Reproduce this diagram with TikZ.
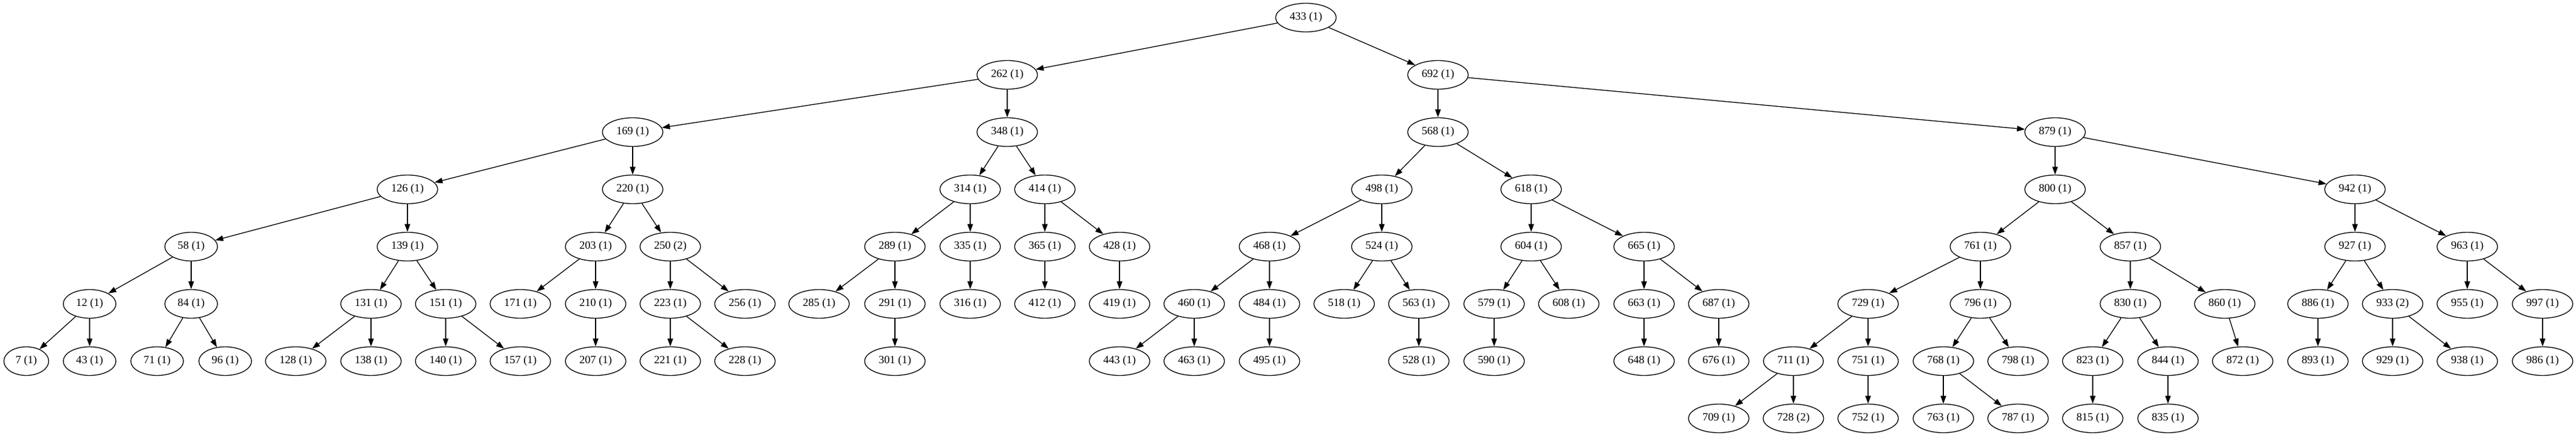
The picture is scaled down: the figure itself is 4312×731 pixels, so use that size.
\documentclass[tikz,border=0pt]{standalone}
\usepackage{fontspec}
\setmainfont{Liberation Serif}
\usetikzlibrary{shapes.geometric,arrows.meta}
\begin{document}
\begin{tikzpicture}[x=0.75pt,y=-0.75pt,
  tn/.style={ellipse,draw,line width=1pt,inner xsep=6.47pt,inner ysep=2pt,
    minimum height=36pt,minimum width=54pt,
    font=\fontsize{14pt}{17pt}\selectfont},
  edge/.style={line width=1pt,-{Triangle[length=10pt,width=7pt]}}]
\useasboundingbox (0,0) rectangle (4312,731);
% level 0
\node[tn] (n433) at (2186,29.5) {433 (1)};
% level 1
\node[tn] (n262) at (1686,125.5) {262 (1)};
\node[tn] (n692) at (2407,125.5) {692 (1)};
% level 2
\node[tn] (n169) at (1059,221.5) {169 (1)};
\node[tn] (n348) at (1686,221.5) {348 (1)};
\node[tn] (n568) at (2407,221.5) {568 (1)};
\node[tn] (n879) at (3440,221.5) {879 (1)};
% level 3
\node[tn] (n126) at (682,317.5) {126 (1)};
\node[tn] (n220) at (1059,317.5) {220 (1)};
\node[tn] (n314) at (1624,317.5) {314 (1)};
\node[tn] (n414) at (1749,317.5) {414 (1)};
\node[tn] (n498) at (2313,317.5) {498 (1)};
\node[tn] (n618) at (2563,317.5) {618 (1)};
\node[tn] (n800) at (3440,317.5) {800 (1)};
\node[tn] (n942) at (3942,317.5) {942 (1)};
% level 4
\node[tn] (n58) at (320,413.5) {58 (1)};
\node[tn] (n139) at (682,413.5) {139 (1)};
\node[tn] (n203) at (997,413.5) {203 (1)};
\node[tn] (n250) at (1122,413.5) {250 (2)};
\node[tn] (n289) at (1498,413.5) {289 (1)};
\node[tn] (n335) at (1624,413.5) {335 (1)};
\node[tn] (n365) at (1749,413.5) {365 (1)};
\node[tn] (n428) at (1874,413.5) {428 (1)};
\node[tn] (n468) at (2125,413.5) {468 (1)};
\node[tn] (n524) at (2313,413.5) {524 (1)};
\node[tn] (n604) at (2563,413.5) {604 (1)};
\node[tn] (n665) at (2752,413.5) {665 (1)};
\node[tn] (n761) at (3315,413.5) {761 (1)};
\node[tn] (n857) at (3566,413.5) {857 (1)};
\node[tn] (n927) at (3942,413.5) {927 (1)};
\node[tn] (n963) at (4130,413.5) {963 (1)};
% level 5
\node[tn] (n12) at (150,509.5) {12 (1)};
\node[tn] (n84) at (320,509.5) {84 (1)};
\node[tn] (n131) at (621,509.5) {131 (1)};
\node[tn] (n151) at (746,509.5) {151 (1)};
\node[tn] (n171) at (871,509.5) {171 (1)};
\node[tn] (n210) at (997,509.5) {210 (1)};
\node[tn] (n223) at (1122,509.5) {223 (1)};
\node[tn] (n256) at (1247,509.5) {256 (1)};
\node[tn] (n285) at (1371,509.5) {285 (1)};
\node[tn] (n291) at (1498,509.5) {291 (1)};
\node[tn] (n316) at (1624,509.5) {316 (1)};
\node[tn] (n412) at (1749,509.5) {412 (1)};
\node[tn] (n419) at (1874,509.5) {419 (1)};
\node[tn] (n460) at (1999,509.5) {460 (1)};
\node[tn] (n484) at (2125,509.5) {484 (1)};
\node[tn] (n518) at (2250,509.5) {518 (1)};
\node[tn] (n563) at (2375,509.5) {563 (1)};
\node[tn] (n579) at (2501,509.5) {579 (1)};
\node[tn] (n608) at (2626,509.5) {608 (1)};
\node[tn] (n663) at (2752,509.5) {663 (1)};
\node[tn] (n687) at (2877,509.5) {687 (1)};
\node[tn] (n729) at (3127,509.5) {729 (1)};
\node[tn] (n796) at (3315,509.5) {796 (1)};
\node[tn] (n830) at (3566,509.5) {830 (1)};
\node[tn] (n860) at (3724,509.5) {860 (1)};
\node[tn] (n886) at (3880,509.5) {886 (1)};
\node[tn] (n933) at (4005,509.5) {933 (2)};
\node[tn] (n955) at (4130,509.5) {955 (1)};
\node[tn] (n997) at (4256,509.5) {997 (1)};
% level 6
\node[tn] (n7) at (44,605.5) {7 (1)};
\node[tn] (n43) at (150,605.5) {43 (1)};
\node[tn] (n71) at (263,605.5) {71 (1)};
\node[tn] (n96) at (377,605.5) {96 (1)};
\node[tn] (n128) at (495,605.5) {128 (1)};
\node[tn] (n138) at (621,605.5) {138 (1)};
\node[tn] (n140) at (746,605.5) {140 (1)};
\node[tn] (n157) at (871,605.5) {157 (1)};
\node[tn] (n207) at (997,605.5) {207 (1)};
\node[tn] (n221) at (1122,605.5) {221 (1)};
\node[tn] (n228) at (1247,605.5) {228 (1)};
\node[tn] (n301) at (1498,605.5) {301 (1)};
\node[tn] (n443) at (1874,605.5) {443 (1)};
\node[tn] (n463) at (1999,605.5) {463 (1)};
\node[tn] (n495) at (2125,605.5) {495 (1)};
\node[tn] (n528) at (2375,605.5) {528 (1)};
\node[tn] (n590) at (2501,605.5) {590 (1)};
\node[tn] (n648) at (2752,605.5) {648 (1)};
\node[tn] (n676) at (2877,605.5) {676 (1)};
\node[tn] (n711) at (3002,605.5) {711 (1)};
\node[tn] (n751) at (3127,605.5) {751 (1)};
\node[tn] (n768) at (3253,605.5) {768 (1)};
\node[tn] (n798) at (3378,605.5) {798 (1)};
\node[tn] (n823) at (3503,605.5) {823 (1)};
\node[tn] (n844) at (3629,605.5) {844 (1)};
\node[tn] (n872) at (3754,605.5) {872 (1)};
\node[tn] (n893) at (3880,605.5) {893 (1)};
\node[tn] (n929) at (4005,605.5) {929 (1)};
\node[tn] (n938) at (4130,605.5) {938 (1)};
\node[tn] (n986) at (4256,605.5) {986 (1)};
% level 7
\node[tn] (n709) at (2877,701.5) {709 (1)};
\node[tn] (n728) at (3002,701.5) {728 (2)};
\node[tn] (n752) at (3127,701.5) {752 (1)};
\node[tn] (n763) at (3253,701.5) {763 (1)};
\node[tn] (n787) at (3378,701.5) {787 (1)};
\node[tn] (n815) at (3503,701.5) {815 (1)};
\node[tn] (n835) at (3629,701.5) {835 (1)};
% edges
\foreach \a/\b in {433/262,433/692,262/169,262/348,692/568,692/879,
  169/126,169/220,348/314,348/414,568/498,568/618,879/800,879/942,
  126/58,126/139,220/203,220/250,314/289,314/335,414/365,414/428,
  498/468,498/524,618/604,618/665,800/761,800/857,942/927,942/963,
  58/12,58/84,139/131,139/151,203/171,203/210,250/223,250/256,
  289/285,289/291,335/316,365/412,428/419,468/460,468/484,
  524/518,524/563,604/579,604/608,665/663,665/687,761/729,761/796,
  857/830,857/860,927/886,927/933,963/955,963/997,
  12/7,12/43,84/71,84/96,131/128,131/138,151/140,151/157,210/207,
  223/221,223/228,291/301,460/443,460/463,484/495,563/528,579/590,
  663/648,687/676,729/711,729/751,796/768,796/798,830/823,830/844,
  860/872,886/893,933/929,933/938,997/986,
  711/709,711/728,751/752,768/763,768/787,823/815,844/835}
  \draw[edge] (n\a) -- (n\b);
\end{tikzpicture}
\end{document}
